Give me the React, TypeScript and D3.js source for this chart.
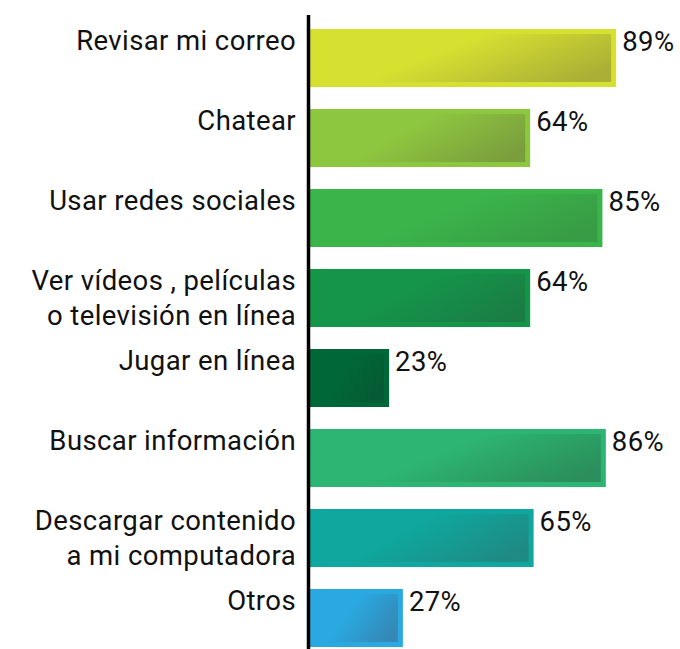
import React from "react";
import * as d3 from "d3";

const categories: string[][] = [
  ["Revisar mi correo"],
  ["Chatear"],
  ["Usar redes sociales"],
  ["Ver vídeos , películas", "o televisión en línea"],
  ["Jugar en línea"],
  ["Buscar información"],
  ["Descargar contenido", "a mi computadora"],
  ["Otros"],
];
const values: number[] = [89, 64, 85, 64, 23, 86, 65, 27];
const baseColors: string[] = ["#D6E031", "#8DC63F", "#3BB54A", "#15954A", "#006838", "#2DB673", "#0FA79E", "#29A9E0"];
const darkColors: string[] = ["#ABAF35", "#7A9E3C", "#389B45", "#1A7D44", "#075A33", "#2B8F5B", "#1F8A83", "#3588B5"];

const W = 680;
const H = 649;
const axisX = 310;
const font = "Roboto, 'DejaVu Sans', sans-serif";

export default function App() {
  const x = d3.scaleLinear().domain([0, 100]).range([axisX, axisX + 344]);
  const y = d3
    .scaleBand<number>()
    .domain(d3.range(values.length))
    .range([29, 647])
    .paddingInner(0.275)
    .paddingOuter(0);
  const bh = y.bandwidth();
  return (
    <svg
      width={W}
      height={H}
      style={{ position: "absolute", left: 0, top: 0, background: "#fff" }}
    >
      <defs>
        {values.map((_, i) => (
          <linearGradient key={i} id={`g${i}`} x1="0" y1="0.3" x2="1" y2="0.7">
            <stop offset="0" stopColor={baseColors[i]} />
            <stop offset="0.4" stopColor={baseColors[i]} />
            <stop offset="1" stopColor={darkColors[i]} />
          </linearGradient>
        ))}
      </defs>
      {values.map((v, i) => {
        const y0 = y(i) as number;
        const x1 = x(v);
        return (
          <g key={i}>
            <rect x={axisX} y={y0} width={x1 - axisX} height={bh} fill={baseColors[i]} />
            <rect
              x={axisX}
              y={y0 + 5}
              width={Math.max(0, x1 - axisX - 5)}
              height={bh - 10}
              fill={`url(#g${i})`}
            />
            <text
              x={x1 + 6}
              y={y0 + 22}
              fontFamily={font}
              fontSize={27.5}
              letterSpacing={0.4}
              fill="#111"
            >
              {v}%
            </text>
            <text
              x={296}
              y={y0 + 21}
              textAnchor="end"
              fontFamily={font}
              fontSize={27.5}
              letterSpacing={0.4}
              fill="#111"
            >
              {categories[i].map((line, j) => (
                <tspan key={j} x={296} dy={j === 0 ? 0 : 35}>
                  {line}
                </tspan>
              ))}
            </text>
          </g>
        );
      })}
      <line x1={308.5} x2={308.5} y1={15} y2={H} stroke="#000" strokeWidth={3.5} />
    </svg>
  );
}
